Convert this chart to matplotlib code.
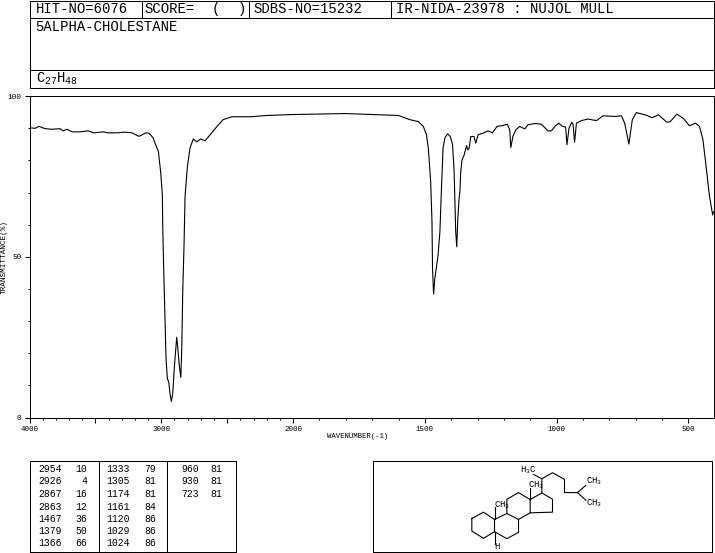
import numpy as np
import matplotlib
matplotlib.use("Agg")
import matplotlib.pyplot as plt

# ---------------------- DATA ----------------------
wavenumber = [4000, 3958, 3928, 3882, 3829, 3768, 3746, 3715, 3677, 3617, 3556, 3510, 3442, 3404,
              3336, 3275, 3222, 3184, 3169, 3116, 3093, 3063, 3040, 3022, 3004, 2992, 2989, 2981,
              2972, 2964, 2954, 2943, 2934, 2924, 2913, 2901, 2883, 2875, 2865, 2852, 2845, 2837,
              2827, 2820, 2802, 2782, 2757, 2731, 2701, 2668, 2630, 2579, 2531, 2465, 2326, 2200,
              2000, 1800, 1700, 1600, 1557, 1525, 1506, 1494, 1487, 1478, 1473, 1471, 1467, 1462,
              1450, 1443, 1437, 1431, 1424, 1414, 1403, 1395, 1389, 1385, 1383, 1379, 1375, 1370,
              1367, 1364, 1359, 1351, 1342, 1337, 1332, 1326, 1314, 1307, 1298, 1279, 1260, 1244,
              1226, 1203, 1187, 1178, 1174, 1166, 1155, 1140, 1121, 1109, 1083, 1058, 1033, 1020,
              1007, 992, 978, 966, 961, 953, 943, 938, 932, 925, 906, 881, 849, 824, 780, 754,
              742, 726, 713, 698, 660, 639, 614, 582, 569, 544, 521, 496, 473, 458, 445, 433,
              420, 408, 405]
transmittance = [90.2, 90.0, 90.6, 89.9, 89.7, 89.9, 89.2, 89.7, 88.9, 88.9, 89.2, 88.6, 88.9, 88.6,
                 88.6, 88.8, 88.6, 87.8, 87.5, 88.6, 88.5, 87.1, 84.6, 82.8, 76.1, 69.3, 59.4, 44.9,
                 30.3, 18.4, 12.2, 10.9, 7.5, 5.0, 7.5, 15.6, 25.0, 21.8, 16.8, 12.5, 20.9, 39.6,
                 54.3, 68.6, 78.0, 83.9, 86.7, 85.8, 86.7, 86.1, 88.0, 90.5, 92.7, 93.6, 93.6, 94.0,
                 94.3, 94.6, 94.3, 94.0, 92.7, 92.1, 90.6, 88.0, 83.9, 73.4, 60.9, 46.5, 38.4, 43.4,
                 50.5, 57.8, 71.4, 83.9, 87.0, 88.3, 87.4, 84.9, 76.5, 64.0, 57.8, 53.1, 62.1, 68.3,
                 70.5, 76.5, 80.2, 81.7, 84.6, 83.3, 83.8, 87.4, 87.5, 85.4, 88.0, 88.5, 89.2, 88.6,
                 90.6, 90.9, 91.3, 89.5, 84.0, 87.5, 89.5, 90.6, 89.8, 91.1, 91.5, 91.3, 89.2, 89.2,
                 90.6, 91.6, 90.6, 90.4, 84.9, 90.1, 91.9, 91.4, 85.7, 91.6, 92.4, 92.9, 92.4, 93.9,
                 93.7, 93.9, 91.6, 85.1, 92.7, 94.9, 94.1, 93.3, 94.2, 91.9, 92.1, 94.4, 93.2, 90.8,
                 91.6, 90.6, 86.4, 78.1, 68.7, 63.0, 64.0]

x_tick_labels = [4000, 3000, 2000, 1500, 1000, 500]
y_tick_labels = [0, 50, 100]

peak_wn = [[2954, 2926, 2867, 2863, 1467, 1379, 1366],
           [1333, 1305, 1174, 1161, 1120, 1029, 1024],
           [960, 930, 723]]
peak_t = [[10, 4, 16, 12, 36, 50, 66],
          [79, 81, 81, 84, 86, 86, 86],
          [81, 81, 81]]

# molecule drawing in zoomed pixels
bonds = [[(320, 205), (355, 186), (388, 208), (388, 245), (355, 265), (320, 243), (320, 205)],
         [(388, 208), (425, 190), (460, 208), (460, 247), (425, 266), (388, 245)],
         [(425, 190), (425, 147), (460, 127), (495, 148), (495, 188), (460, 208)],
         [(495, 148), (530, 128), (562, 147), (562, 186), (495, 188)],
         [(530, 128), (530, 85), (562, 67), (598, 87), (598, 127), (637, 127), (662, 105)],
         [(637, 127), (662, 150)],
         [(530, 85), (505, 72)],
         [(388, 208), (388, 170)],
         [(495, 148), (495, 112)],
         [(388, 245), (388, 282)]]

# ---------------------- SETTINGS ----------------------
W, H = 715, 553
plt.rcParams['font.family'] = 'Liberation Mono'
plt.rcParams['mathtext.fontset'] = 'custom'
plt.rcParams['mathtext.rm'] = 'Liberation Mono'
plt.rcParams['lines.antialiased'] = False
plt.rcParams['patch.antialiased'] = False
LW = 0.72
CURVE_LW = 0.8


def px_axes(fig, left, top, right, bottom, **kw):
    return fig.add_axes([left / W, 1 - bottom / H, (right - left) / W, (bottom - top) / H], **kw)


def stretch(x):
    # scale is twice as wide below 2000 cm-1
    x = np.asarray(x, dtype=float)
    return np.where(x <= 2000, x, 2000 + (x - 2000) / 2)


def unstretch(v):
    v = np.asarray(v, dtype=float)
    return np.where(v <= 2000, v, 2000 + (v - 2000) * 2)


fig = plt.figure(figsize=(W / 100, H / 100), dpi=100)

# ---------------------- SPECTRUM ----------------------
ax = px_axes(fig, 29.5, 96.2, 713.5, 417.5)
ax.set_xscale('function', functions=(stretch, unstretch))
ax.plot(wavenumber, transmittance, color='black', linewidth=CURVE_LW, antialiased=True)
ax.set_xlim(4000, 405)
ax.set_ylim(0, 100)

ax.set_xticks([4000, 3500, 3000, 2500, 2000, 1500, 1000, 500])
ax.set_xticklabels(['4000', '', '3000', '', '2000', '1500', '1000', '500'], fontsize=5.4)
ax.set_xticks(np.arange(500, 4000, 100), minor=True)
ax.set_yticks(y_tick_labels)
ax.set_yticklabels(['0', '50', '100'], fontsize=5.6)
ax.set_yticks(np.arange(0, 101, 10), minor=True)
ax.tick_params(axis='both', which='major', length=3.4, width=LW, pad=2.5)
ax.tick_params(axis='both', which='minor', length=1.6, width=LW)
for spine in ax.spines.values():
    spine.set_linewidth(LW)
ax.set_xlabel("WAVENUMBER(-1)", fontsize=5.2, va='center', ha='center')
ax.xaxis.set_label_coords((358 - 29.5) / 684, -(437 - 417.5) / 321.3)
ax.set_ylabel("TRANSMITTANCE(%)", fontsize=5.6, va='center', ha='center')
ax.yaxis.set_label_coords((4.5 - 29.5) / 684, (417.5 - 257.5) / 321.3)

# ---------------------- HEADER AND BOXES ----------------------
page = px_axes(fig, 0, 0, W, H)
page.set_xlim(0, W)
page.set_ylim(H, 0)
page.axis('off')
page.patch.set_alpha(0)

frames = [(29.5, 0.5, 713.5, 87.5), (29.5, 460.5, 235.5, 551.9), (372.5, 460.5, 711.5, 551.9)]
for x0, y0, x1, y1 in frames:
    page.plot([x0, x1, x1, x0, x0], [y0, y0, y1, y1, y0], color='black', linewidth=LW)
for y in [17.5, 69.5]:
    page.plot([29.5, 713.5], [y, y], color='black', linewidth=LW)
for x in [141.5, 248.5, 390.5]:
    page.plot([x, x], [0.5, 17.5], color='black', linewidth=LW)
for x in [98.5, 166.5]:
    page.plot([x, x], [460.5, 551.9], color='black', linewidth=LW)

header = [(35.5, 9, "HIT-NO=6076"), (144.5, 9, "SCORE="), (212, 9, "("), (238, 9, ")"),
          (253, 9, "SDBS-NO=15232"), (396.5, 9, "IR-NIDA-23978 : NUJOL MULL"),
          (35.5, 27, "5ALPHA-CHOLESTANE")]
for x, y, s in header:
    page.text(x, y, s, fontsize=10, va='center', ha='left')
page.text(35.5, 79, r"$\mathregular{C_{27}H_{48}}$", fontsize=10, va='center', ha='left')

# peak table
wn_right = [62, 130, 199]
t_right = [87, 156, 222.5]
row_y = [469, 481.5, 494, 506.5, 519, 531.5, 543.5]
for c in range(len(peak_wn)):
    for r in range(len(peak_wn[c])):
        page.text(wn_right[c], row_y[r], str(peak_wn[c][r]), fontsize=7, ha='right', va='center')
        page.text(t_right[c], row_y[r], str(peak_t[c][r]), fontsize=7, ha='right', va='center')

# ---------------------- STRUCTURE ----------------------
mol = px_axes(fig, 372.5, 460.5, 711.5, 551.9)
mol.set_xlim(22, 1039)
mol.set_ylim(306, 30)
mol.axis('off')
mol.patch.set_alpha(0)
for chain in bonds:
    xs, ys = zip(*chain)
    mol.plot(xs, ys, color='black', linewidth=CURVE_LW, antialiased=True)

labels = [(463, 60, "H", "3", "C"), (663, 92, "CH", "3", ""), (663, 160, "CH", "3", ""),
          (488, 105, "CH", "3", ""), (388, 165, "CH", "3", "")]
for x, y, a, sub, b in labels:
    mol.text(x, y, rf"$\mathregular{{{a}_{{{sub}}}{b}}}$", fontsize=6.5, va='center', ha='left')
mol.text(387, 289, "H", fontsize=6.5, va='center', ha='left')

fig.savefig("out.png", dpi=100)
